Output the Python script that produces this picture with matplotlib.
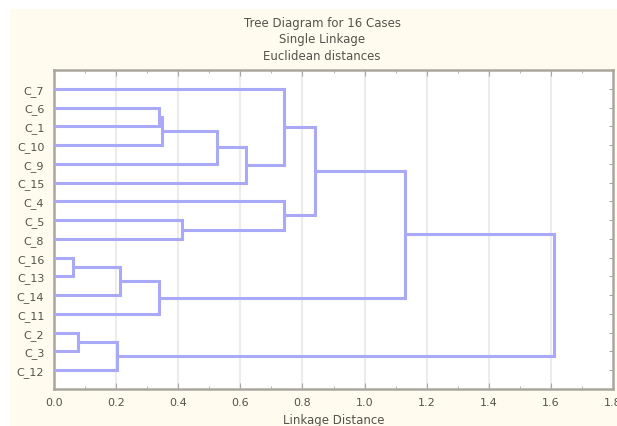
import matplotlib
matplotlib.use('Agg')
import matplotlib.pyplot as plt
from matplotlib.patches import Rectangle
import numpy as np

# leaves from top to bottom of the tree
leaves = ['C_7', 'C_6', 'C_1', 'C_10', 'C_9', 'C_15', 'C_4', 'C_5', 'C_8',
          'C_16', 'C_13', 'C_14', 'C_11', 'C_2', 'C_3', 'C_12']

# single linkage joins: (left member, right member, linkage distance)
# members are leaf names or the index of an earlier join
merges = [
    ('C_6', 'C_1', 0.339),
    (0, 'C_10', 0.349),
    (1, 'C_9', 0.525),
    (2, 'C_15', 0.618),
    ('C_7', 3, 0.739),
    ('C_5', 'C_8', 0.413),
    ('C_4', 5, 0.739),
    (4, 6, 0.842),
    ('C_16', 'C_13', 0.061),
    (8, 'C_14', 0.211),
    (9, 'C_11', 0.339),
    (7, 10, 1.130),
    ('C_2', 'C_3', 0.077),
    (12, 'C_12', 0.2016),
    (11, 13, 1.610),
]

xticks = [0.0, 0.2, 0.4, 0.6, 0.8, 1.0, 1.2, 1.4, 1.6, 1.8]

line_col = '#a9a9f7'
cream = '#fffbee'
frame_col = '#aaa79f'
text_col = '#55524c'

fig = plt.figure(figsize=(6.17, 4.27), dpi=100, facecolor=cream)
# white margin strips along the top and left edge of the page
fig.patches.append(Rectangle((0, 1 - 10/427), 1, 10/427, transform=fig.transFigure,
                             facecolor='white', edgecolor='none', zorder=0))
fig.patches.append(Rectangle((0, 0), 10/617, 1, transform=fig.transFigure,
                             facecolor='white', edgecolor='none', zorder=0))

ax = fig.add_axes([54/617, 1 - 390/427, (613 - 54)/617, (390 - 71)/427])
ax.set_facecolor('white')

leaf_pos = {name: (0.0, i + 1) for i, name in enumerate(leaves)}
node_pos = []

def position(member):
    if isinstance(member, str):
        return leaf_pos[member]
    return node_pos[member]

for a, b, h in merges:
    xa, ya = position(a)
    xb, yb = position(b)
    ax.plot([xa, h], [ya, ya], color=line_col, lw=2.2, solid_capstyle='butt', zorder=3)
    ax.plot([xb, h], [yb, yb], color=line_col, lw=2.2, solid_capstyle='butt', zorder=3)
    ax.plot([h, h], [ya, yb], color=line_col, lw=2.2, solid_capstyle='projecting', zorder=3)
    node_pos.append((h, (ya + yb) / 2))

ax.set_xlim(0, 1.8)
ax.set_ylim(len(leaves) + 1, 0)
ax.set_xticks(xticks)
ax.set_xticklabels(['%.1f' % t for t in xticks])
ax.set_xticks(np.arange(0.1, 1.8, 0.2), minor=True)
ax.set_yticks(range(1, len(leaves) + 1))
ax.set_yticklabels(leaves)

for t in xticks[1:-1]:
    ax.axvline(t, color='#ececec', lw=1.5, zorder=1)

for s in ax.spines.values():
    s.set_color(frame_col)
    s.set_linewidth(1.8)

ax.tick_params(axis='both', which='both', direction='in', color=frame_col,
               labelcolor=text_col, labelsize=8, top=True, right=True)
ax.tick_params(axis='x', which='major', length=4, pad=6)
ax.tick_params(axis='x', which='minor', length=2)
ax.tick_params(axis='y', length=3, pad=7)

ax.set_xlabel('Linkage Distance', fontsize=8.5, color=text_col, labelpad=4)

fig.text(0.522, 1 - 23/427, 'Tree Diagram for 16 Cases', ha='center', va='center',
         fontsize=8.5, color=text_col)
fig.text(0.522, 1 - 40/427, 'Single Linkage', ha='center', va='center',
         fontsize=8.5, color=text_col)
fig.text(0.522, 1 - 57/427, 'Euclidean distances', ha='center', va='center',
         fontsize=8.5, color=text_col)

fig.savefig('out.png', dpi=100, facecolor=cream)
